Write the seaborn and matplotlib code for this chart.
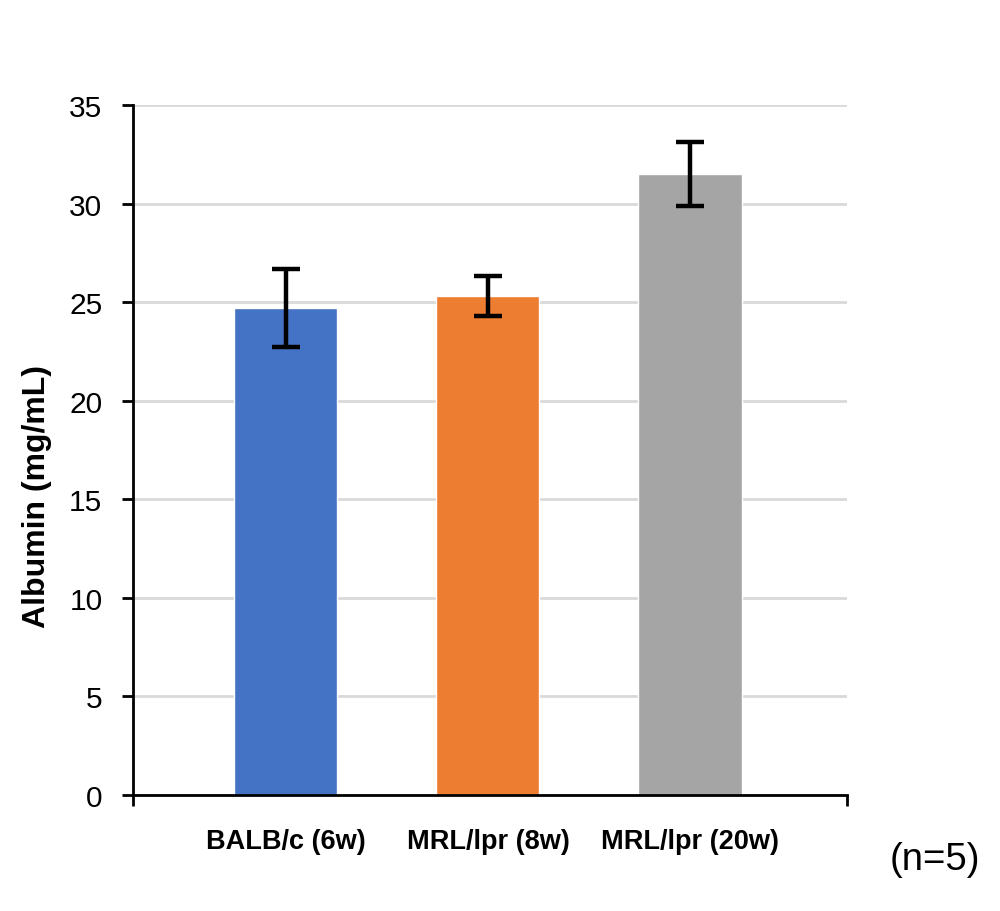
import matplotlib
matplotlib.use("Agg")
import matplotlib.pyplot as plt
import seaborn as sns
import pandas as pd

categories = ["BALB/c (6w)", "MRL/lpr (8w)", "MRL/lpr (20w)"]
means = [24.7, 25.3, 31.5]
errors = [2.0, 1.0, 1.6]
colors = ["#4472C4", "#ED7D31", "#A5A5A5"]
y_ticks = [0, 5, 10, 15, 20, 25, 30, 35]

sns.set_theme(style="white")
plt.rcParams['font.family'] = ['Liberation Sans', 'DejaVu Sans']

df = pd.DataFrame({"group": categories, "albumin": means})

fig = plt.figure(figsize=(10, 9.12), dpi=100)
ax = fig.add_axes([0.133, 0.1272, 0.714, 0.7566])

sns.barplot(data=df, x="group", y="albumin", hue="group", palette=colors,
            width=0.51, errorbar=None, legend=False, ax=ax, saturation=1, zorder=2)
ax.errorbar(range(len(categories)), means, yerr=errors, fmt='none', ecolor='black',
            elinewidth=3.2, capsize=10, capthick=3.2, zorder=3)

ax.set_xlim(-0.757, 2.777)
ax.set_ylim(0, 35)
ax.set_yticks(y_ticks)
ax.set_yticklabels([str(v) for v in y_ticks], fontsize=21.5)
ax.yaxis.grid(True, color="#d9d9d9", linewidth=2, zorder=0)
ax.set_axisbelow(True)

for s in ["top", "right"]:
    ax.spines[s].set_visible(False)
for s in ["left", "bottom"]:
    ax.spines[s].set_color("black")
    ax.spines[s].set_linewidth(2)

ax.tick_params(axis='y', which='major', direction='out', length=8, width=2,
               color='black', left=True, pad=14, labelcolor='black')
ax.tick_params(axis='x', which='major', length=0, pad=24)
ax.set_xticks([-0.757, 2.777], minor=True)
ax.tick_params(axis='x', which='minor', direction='out', length=8, width=2,
               color='black', bottom=True)
for lbl in ax.get_xticklabels():
    lbl.set_fontsize(19.5)
    lbl.set_fontweight('bold')
    lbl.set_color('black')

ax.set_xlabel("")
ax.set_ylabel("")
fig.text(0.037, 1 - 497 / 912, "Albumin (mg/mL)", fontsize=23, fontweight='bold',
         color='black', rotation=90, ha='center', va='center')

fig.text(0.935, 1 - 860 / 912, "(n=5)", fontsize=27.5, ha='center', va='center', color='black')

fig.savefig("out.png", dpi=100, facecolor='white')
